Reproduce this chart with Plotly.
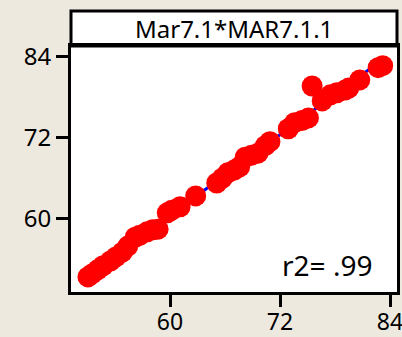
import numpy as np
import plotly.graph_objects as go

# Paired measurements: Mar7.1 (x) against MAR7.1.1 (y)
mar71 = [51.05, 51.5, 52.1, 52.7, 53.5, 54.1, 54.8, 55.4, 56.2, 56.7,
         57.5, 58.1, 58.7, 59.7, 60.2, 61.1, 62.8, 65.1, 65.7, 66.3,
         67.0, 67.6, 68.2, 68.9, 69.6, 70.4, 70.9, 72.9, 73.6, 74.4,
         75.1, 75.5, 76.6, 77.5, 78.2, 79.1, 79.5, 80.7, 82.7, 83.2]
mar711 = [51.45, 51.9, 52.5, 53.1, 53.8, 54.4, 55.1, 56.0, 57.3, 57.6,
          58.1, 58.4, 58.5, 60.9, 61.3, 61.8, 63.4, 65.3, 66.0, 66.8,
          67.2, 67.7, 69.1, 69.4, 69.7, 70.8, 71.4, 73.3, 74.2, 74.5,
          74.9, 79.6, 77.4, 78.3, 78.6, 79.0, 79.3, 80.5, 82.3, 82.6]
tick_vals = [60, 72, 84]
panel_title = "Mar7.1*MAR7.1.1"
r2_label = "r2= .99"

x = np.array(mar71)
y = np.array(mar711)
slope, intercept = np.polyfit(x, y, 1)
fit_x = np.array([x.min(), x.max()])
fit_y = slope * fit_x + intercept

FONT = "Noto Sans"
BG = "#EDE9DF"

fig = go.Figure()
fig.add_trace(go.Scatter(x=fit_x, y=fit_y, mode="lines",
                         line=dict(color="#0000FF", width=3),
                         hoverinfo="skip", showlegend=False))
fig.add_trace(go.Scatter(x=x, y=y, mode="markers",
                         marker=dict(color="#FF0000", size=21, line=dict(width=0)),
                         showlegend=False))

axis_common = dict(
    showgrid=False, zeroline=False, automargin=False,
    showline=True, linecolor="black", linewidth=3, mirror=True,
    ticks="outside", ticklen=12, tickwidth=3, tickcolor="black",
    tickvals=tick_vals, ticktext=[str(v) for v in tick_vals],
    ticklabeloverflow="allow",
)
fig.update_xaxes(range=[49.2, 84.76], ticklabelstandoff=-5,
                 tickfont=dict(family=FONT, size=23, color="black"), **axis_common)
fig.update_yaxes(range=[49.23, 85.5],
                 tickfont=dict(family=FONT, size=24, color="black"), **axis_common)

plot_h = 292 - 46
# header strip above the plotting area
fig.add_shape(type="rect", xref="paper", yref="paper",
              x0=0, x1=1, y0=1, y1=1 + 35 / plot_h,
              line=dict(color="black", width=3), fillcolor="white", layer="below")
fig.add_annotation(text=panel_title, xref="paper", yref="paper",
                   x=0.5, y=1 + 17.5 / plot_h, showarrow=False,
                   xanchor="center", yanchor="middle",
                   font=dict(family=FONT, size=24, color="black"))
fig.add_annotation(text=r2_label, xref="paper", yref="paper",
                   x=0.928, y=0.11, showarrow=False,
                   xanchor="right", yanchor="middle",
                   font=dict(family=FONT, size=28, color="black"))

fig.update_layout(
    width=402, height=337,
    margin=dict(l=71, r=5, t=46, b=45),
    paper_bgcolor=BG, plot_bgcolor="white",
    font=dict(family=FONT),
)
fig.write_html("out.html")
